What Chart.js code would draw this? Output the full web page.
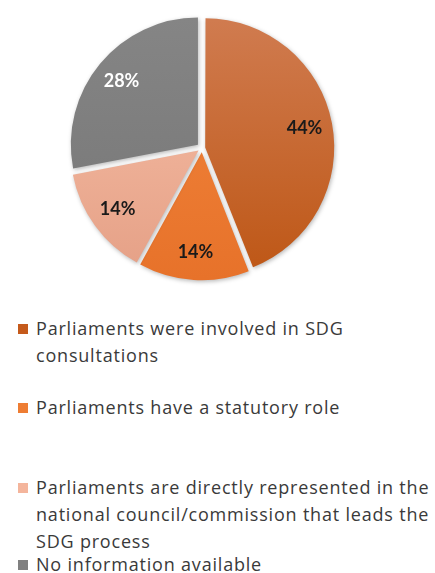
<!DOCTYPE html>
<html>
<head>
<meta charset="utf-8">
<script src="https://cdn.jsdelivr.net/npm/chart.js@4"></script>
<style>
  html, body { margin: 0; padding: 0; background: #fff; }
  body { width: 435px; height: 573px; position: relative; overflow: hidden; font-family: "Open Sans", Lato, sans-serif; }
  #wrap { position: absolute; left: 0; top: 0; width: 404px; height: 296px; }
  .item { position: absolute; left: 18px; width: 417px; font-size: 18px; letter-spacing: 0.8px; line-height: 27px; color: #3a3a3a; }
  .sw { position: absolute; left: 0; top: 9px; width: 10px; height: 10px; }
  .tx { margin-left: 18px; width: 399px; }
</style>
</head>
<body>
<div id="wrap"><canvas id="c"></canvas></div>
<div id="legend"></div>
<script>
const categories = [
  "Parliaments were involved in SDG consultations",
  "Parliaments have a statutory role",
  "Parliaments are directly represented in the national council/commission that leads the SDG process",
  "No information available"
];
const shares = [44, 14, 14, 28];
const valueLabels = ["44%", "14%", "14%", "28%"];

const swatchColors = ["#c55a1b", "#ee7d33", "#f4b59c", "#808080"];
const gradTop = ["#d07b4f", "#f2863d", "#f7c0a8", "#858585"];
const gradBottom = ["#be5716", "#e7722a", "#e5a086", "#767676"];
const labelColors = ["#1a1a1a", "#1a1a1a", "#1a1a1a", "#ffffff"];
const legendTops = [315, 394, 474, 551];

const RADIUS = 127;

function sliceFill(ctx) {
  const chart = ctx.chart;
  const area = chart.chartArea;
  const i = ctx.dataIndex;
  if (!area || i === undefined) return swatchColors[i] || '#888';
  const cy = (area.top + area.bottom) / 2;
  const g = chart.ctx.createLinearGradient(0, cy - RADIUS, 0, cy + RADIUS);
  g.addColorStop(0, gradTop[i]);
  g.addColorStop(1, gradBottom[i]);
  return g;
}

const shadowPlugin = {
  id: 'shadow',
  beforeDatasetsDraw(chart) {
    const c = chart.ctx;
    c.save();
    c.shadowColor = 'rgba(0,0,0,0.28)';
    c.shadowBlur = 4;
    c.shadowOffsetX = 1;
    c.shadowOffsetY = 1.5;
  },
  afterDatasetsDraw(chart) {
    chart.ctx.restore();
  }
};

const labelPlugin = {
  id: 'sliceLabels',
  afterDatasetsDraw(chart) {
    const c = chart.ctx;
    const meta = chart.getDatasetMeta(0);
    c.save();
    c.font = 'bold 18px Lato, "Liberation Sans", sans-serif';
    c.textAlign = 'center';
    c.textBaseline = 'middle';
    meta.data.forEach((arc, i) => {
      const p = arc.getProps(['x', 'y', 'startAngle', 'endAngle', 'outerRadius', 'circumference']);
      const mid = (p.startAngle + p.endAngle) / 2;
      const off = (arc.options.offset || 0) / 4;
      const fix = 1 - Math.sin(Math.min(Math.PI, p.circumference || 0));
      const t = off * (1 + fix);
      const r = p.outerRadius * 0.78;
      const x = p.x + Math.cos(mid) * (r + t);
      const y = p.y + Math.sin(mid) * (r + t);
      c.fillStyle = labelColors[i];
      c.fillText(valueLabels[i], x, y);
    });
    c.restore();
  }
};

new Chart(document.getElementById('c'), {
  type: 'pie',
  data: {
    labels: categories,
    datasets: [{
      data: shares,
      backgroundColor: sliceFill,
      borderWidth: 0,
      offset: [13, 17, 17, 21]
    }]
  },
  options: {
    responsive: true,
    maintainAspectRatio: false,
    animation: false,
    radius: RADIUS,
    layout: { padding: 0 },
    plugins: {
      legend: { display: false },
      tooltip: { enabled: false }
    }
  },
  plugins: [shadowPlugin, labelPlugin]
});

const legend = document.getElementById('legend');
categories.forEach((name, i) => {
  const d = document.createElement('div');
  d.className = 'item';
  d.style.top = legendTops[i] + 'px';
  const sw = document.createElement('span');
  sw.className = 'sw';
  sw.style.background = swatchColors[i];
  const tx = document.createElement('div');
  tx.className = 'tx';
  tx.textContent = name;
  d.appendChild(sw);
  d.appendChild(tx);
  legend.appendChild(d);
});
</script>
</body>
</html>
